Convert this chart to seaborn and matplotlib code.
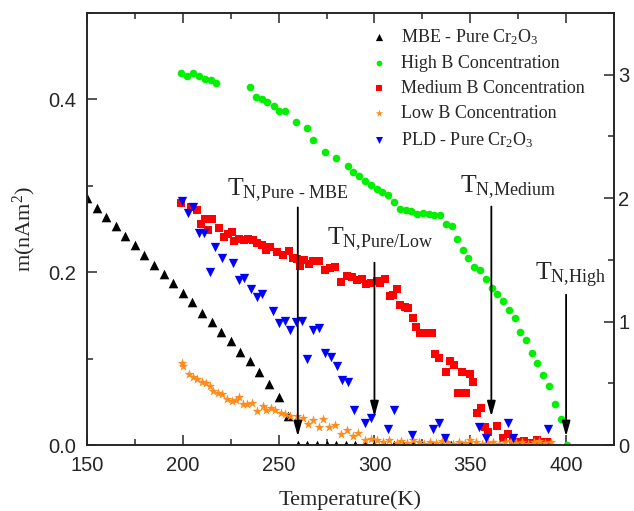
import pandas as pd
import seaborn as sns
import matplotlib
matplotlib.use("Agg")
from matplotlib import pyplot as plt
from matplotlib.ticker import MultipleLocator

sns.set_style("ticks")
plt.rcParams["font.family"] = ["Liberation Serif", "DejaVu Serif"]
plt.rcParams["mathtext.fontset"] = "custom"
plt.rcParams["mathtext.rm"] = "Liberation Serif"
plt.rcParams["mathtext.it"] = "Liberation Serif:italic"
plt.rcParams["mathtext.bf"] = "Liberation Serif:bold"

# MBE - pure Cr2O3
mbe_T = [150, 155, 160, 165, 170, 175, 180, 185, 190, 195, 200, 205, 210, 215, 220,
         225, 230, 235, 240, 245, 250, 255,
         260, 265, 270, 275, 280, 285, 290, 295, 300, 305, 310, 315, 320, 325, 330,
         335, 340, 345, 350]
mbe_m = [0.286, 0.274, 0.264, 0.253, 0.242, 0.231, 0.220, 0.208, 0.198, 0.187, 0.176,
         0.165, 0.153, 0.142, 0.131, 0.120, 0.108, 0.097, 0.084, 0.071, 0.056, 0.033,
         0, 0, 0, 0, 0, 0, 0, 0, 0, 0, 0, 0, 0, 0, 0, 0, 0, 0, 0]

# high B concentration
high_T = [199.1, 202.3, 205.5, 208.5, 211.6, 214.6, 217.5, 235.1, 238.2, 241.2, 244.1,
          247.6, 250.2, 253.2, 259.1, 265.0, 268.1, 274.1, 280.1, 286.4, 289.0, 292.1,
          295.1, 298.1, 301.2, 304.1, 307.3, 310.4, 313.4, 316.3, 319.1, 322.2, 325.2,
          328.3, 331.3, 334.2, 337.2, 340.3, 343.0, 346.1, 349.0, 352.0, 355.1, 358.1,
          361.2, 364.1, 367.3, 370.3, 373.4, 376.0, 379.1, 382.3, 385.0, 388.2, 391.3,
          394.3, 397.2, 400.4]
high_m = [0.430, 0.427, 0.431, 0.427, 0.424, 0.422, 0.419, 0.414, 0.403, 0.401, 0.397,
          0.392, 0.386, 0.386, 0.374, 0.367, 0.353, 0.339, 0.332, 0.323, 0.316, 0.311,
          0.305, 0.301, 0.296, 0.293, 0.289, 0.281, 0.273, 0.272, 0.271, 0.267, 0.269,
          0.267, 0.266, 0.266, 0.256, 0.253, 0.238, 0.226, 0.216, 0.206, 0.203, 0.192,
          0.182, 0.175, 0.167, 0.156, 0.147, 0.131, 0.121, 0.106, 0.095, 0.081, 0.068,
          0.048, 0.030, 0.0]

# medium B concentration
med_T = [199.0, 204.1, 207.2, 209.3, 211.6, 213.3, 215.4, 219.1, 221.5, 223.7, 225.5,
         226.7, 229.5, 231.9, 234.2, 236.5, 238.9, 241.2, 243.4, 245.5, 249.3, 252.3,
         255.3, 257.7, 259.4, 261.0, 263.3, 266.0, 268.1, 271.2, 274.2, 276.8, 279.4,
         282.4, 285.5, 288.2, 290.8, 293.4, 295.6, 298.1, 301.2, 302.9, 305.5, 308.1,
         309.9, 311.6, 313.4, 316.0, 317.7, 320.0, 321.7, 323.8, 325.9, 329.9, 331.6,
         333.9, 337.4, 339.5, 341.7, 343.8, 345.6, 347.8, 349.9, 351.6, 353.4, 355.6,
         357.7, 359.4, 363.8, 367.0, 369.9, 372.5, 375.0, 378.0, 381.0, 385.0, 388.0,
         390.0]
med_m = [0.280, 0.276, 0.272, 0.256, 0.262, 0.249, 0.262, 0.251, 0.241, 0.244, 0.247,
         0.236, 0.238, 0.237, 0.238, 0.237, 0.234, 0.231, 0.226, 0.229, 0.223, 0.220,
         0.224, 0.216, 0.215, 0.207, 0.214, 0.209, 0.213, 0.213, 0.202, 0.205, 0.206,
         0.189, 0.196, 0.195, 0.191, 0.192, 0.186, 0.187, 0.190, 0.187, 0.192, 0.172,
         0.174, 0.181, 0.162, 0.160, 0.158, 0.147, 0.137, 0.130, 0.130, 0.130, 0.105,
         0.101, 0.084, 0.097, 0.093, 0.060, 0.085, 0.060, 0.082, 0.073, 0.037, 0.043,
         0.021, 0.015, 0.022, 0.008, 0.013, 0.004, 0.003, 0.005, 0.002, 0.006, 0.003,
         0.004]

# low B concentration
low_T = [199.4, 200.3, 203.4, 205.5, 207.6, 209.9, 212.1, 214.2, 215.9, 218.5, 220.3,
         223.2, 225.5, 227.8, 229.5, 231.6, 233.7, 236.0, 238.9, 241.7, 243.4, 245.9,
         248.1, 251.1, 253.3, 256.0, 259.4, 262.6, 265.5, 268.1, 271.2, 273.3, 276.5,
         279.4, 282.4, 285.5, 288.7, 291.6, 295.1, 298.1, 301.2, 304.3, 307.8, 311.6,
         314, 317, 320, 323, 326, 329, 332, 335, 338, 341, 344, 347, 350, 353, 356,
         359, 362, 365, 368, 371, 374, 377, 380, 383, 386, 389, 392]
low_m = [0.095, 0.091, 0.082, 0.079, 0.076, 0.073, 0.072, 0.068, 0.063, 0.060, 0.059,
         0.053, 0.051, 0.052, 0.055, 0.048, 0.048, 0.049, 0.039, 0.045, 0.040, 0.043,
         0.041, 0.037, 0.036, 0.034, 0.034, 0.031, 0.024, 0.029, 0.021, 0.030, 0.021,
         0.023, 0.013, 0.017, 0.010, 0.014, 0.006, 0.007, 0.006, 0.004, 0.006, 0.002,
         0.005, 0.002, 0.006, 0.003, 0.001, 0.004, 0.002, 0.005, 0.003, 0.001, 0.004,
         0.002, 0.006, 0.003, 0.001, 0.002, 0.004, 0.001, 0.003, 0.005, 0.002, 0.004,
         0.001, 0.003, 0.005, 0.002, 0.004]

# PLD - pure Cr2O3
pld_T = [199.4, 202.9, 205.5, 208.6, 211.1, 214.2, 216.8, 220.6, 226.0, 229.5, 232.1,
         235.4, 238.6, 241.2, 247.3, 250.2, 253.3, 256.0, 259.1, 262.0, 265.0, 267.8,
         271.2, 274.0, 277.2, 280.5, 283.2, 286.4, 289.4, 295.1, 298.1, 307.0, 310.3,
         319.5, 330.7, 333.9, 336.8, 354.7, 358.1, 369.9, 372.5, 390.8]
pld_m = [0.282, 0.269, 0.276, 0.245, 0.245, 0.200, 0.229, 0.216, 0.211, 0.191, 0.193,
         0.180, 0.171, 0.175, 0.155, 0.141, 0.144, 0.133, 0.142, 0.144, 0.100, 0.133,
         0.135, 0.107, 0.102, 0.091, 0.075, 0.073, 0.040, 0.026, 0.031, 0.019, 0.040,
         0.012, 0.018, 0.026, 0.008, 0.021, 0.008, 0.025, 0.008, 0.018]

labels = ["MBE - Pure Cr$_2$O$_3$", "High B Concentration", "Medium B Concentration",
          "Low B Concentration", "PLD - Pure Cr$_2$O$_3$"]
colors = ["#000000", "#00f000", "#ff0000", "#ff8c1a", "#0000ff"]
markers = ["^", "o", "s", "*", "v"]
sizes = [48, 30, 30, 55, 45]

# Neel temperature arrows: label, x, text pos, arrow top, arrow tip
tn_labels = [r"T$_{\text{N,Pure - MBE}}$", r"T$_{\text{N,Pure/Low}}$",
             r"T$_{\text{N,Medium}}$", r"T$_{\text{N,High}}$"]
tn_T = [260, 300, 361, 400]
tn_text_T = [223, 275, 344.5, 383.8]
tn_text_m = [0.289, 0.232, 0.292, 0.191]
tn_top = [0.275, 0.211, 0.276, 0.174]
tn_tip = [0.010, 0.033, 0.033, 0.010]

series = [(mbe_T, mbe_m), (high_T, high_m), (med_T, med_m), (low_T, low_m), (pld_T, pld_m)]

fig, ax = plt.subplots(figsize=(6.34, 5.11), dpi=100)
fig.subplots_adjust(left=87/634, right=614/634, top=1-13/511, bottom=1-445/511)

for (t, m), lab, c, mk, s in zip(series, labels, colors, markers, sizes):
    sns.scatterplot(x=t, y=m, ax=ax, color=c, marker=mk, s=s, linewidth=0, label=lab)

for lab, t, tx, ty, top, tip in zip(tn_labels, tn_T, tn_text_T, tn_text_m, tn_top, tn_tip):
    ax.annotate("", xy=(t, tip), xytext=(t, top),
                arrowprops=dict(arrowstyle="-|>,head_length=0.9,head_width=0.25",
                                color="black", lw=1.3, shrinkA=0, shrinkB=0))
    ax.text(tx, ty, lab, fontsize=18.5, ha="left", va="baseline")

ax.set_xlim(150, 425)
ax.set_ylim(0, 0.5)
ax.xaxis.set_major_locator(MultipleLocator(50))
ax.xaxis.set_minor_locator(MultipleLocator(25))
ax.yaxis.set_minor_locator(MultipleLocator(0.1))
ax.set_yticks([0.0, 0.2, 0.4])
ax.set_yticklabels(["0.0", "0.2", "0.4"])

ax2 = ax.twinx()
ax2.set_ylim(0, 3.5)
ax2.yaxis.set_major_locator(MultipleLocator(1))
ax2.yaxis.set_minor_locator(MultipleLocator(0.5))

for a in (ax, ax2):
    for sp in a.spines.values():
        sp.set_linewidth(1.2)
        sp.set_visible(True)
    for lbl in a.get_xticklabels() + a.get_yticklabels():
        lbl.set_family("Liberation Sans")
        lbl.set_fontsize(14.5)

ax.tick_params(which="both", direction="in", top=True, right=False, width=1.1, pad=8)
ax.tick_params(which="major", length=7)
ax.tick_params(which="minor", length=4)
ax2.tick_params(which="both", direction="in", width=1.1, pad=3)
ax2.tick_params(which="major", length=7)
ax2.tick_params(which="minor", length=4)

ax.set_xlabel("Temperature(K)", fontsize=16, labelpad=11)
ax.set_ylabel("m(nAm$^2$)", fontsize=16, labelpad=7)

ax.legend(loc="upper left", bbox_to_anchor=(361/634, 1-18/511), bbox_transform=fig.transFigure,
          frameon=False, fontsize=13, handlelength=1.0, handletextpad=0.7,
          labelspacing=0.45, borderpad=0, markerscale=0.75)

plt.savefig("out.png", dpi=100)
